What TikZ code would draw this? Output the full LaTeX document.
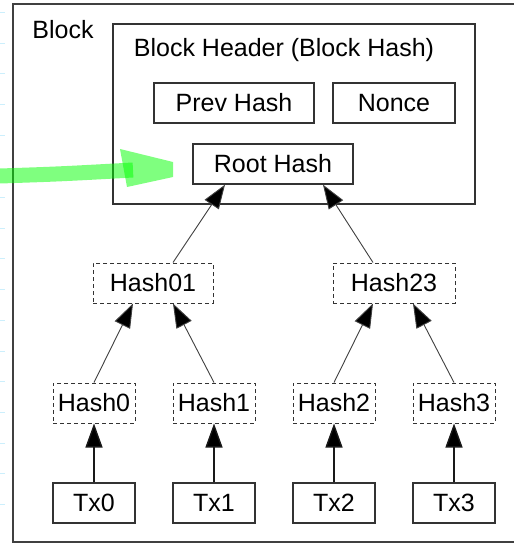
\documentclass[tikz,border=0pt]{standalone}
\usepackage{fontspec}
\setmainfont{Liberation Sans}
\usetikzlibrary{arrows.meta}
\definecolor{marker}{rgb}{0,1,0}
\tikzset{
  solidbox/.style={draw=black!80,line width=1.3pt,rectangle,inner sep=0pt,minimum height=40pt},
  hashbox/.style={solidbox,dashed,dash pattern=on 4pt off 3pt,line width=1pt},
  up/.style={-{Triangle[length=24pt,width=17pt,fill=black]},line width=0.9pt,draw=black!75},
  upthick/.style={up,line width=1.4pt,draw=black!90}
}
\begin{document}
\begin{tikzpicture}[x=1pt,y=-1pt,font=\fontsize{25}{29}\selectfont]
      \useasboundingbox (0,0) rectangle (513,545);
      \fill[white] (0,0) rectangle (513,545);
      % screenshot ticks on the left
      \foreach \y in {12,43,73,104,135,197,228,258,289,320,351,381,412,443,473,504}
        \draw[cyan!20,line width=0.8pt] (0,\y) -- (5,\y);

      % block and header
      \draw[black!75,line width=1.5pt] (520,4) -- (13,4) -- (13,542) -- (520,542);
      \node (block) at (63,30) {Block};
      \node[solidbox,minimum width=362pt,minimum height=180pt] (header) at (294,114) {};
      \node (title) at (284,50) {Block Header (Block Hash)};

      \def \Solid {
        prev/234/103/160/Prev Hash,
        nonce/394/103/122/Nonce,
        root/273/164/160/Root Hash,
        tx0/94/503/82/Tx0,
        tx1/214/503/82/Tx1,
        tx2/334/503/82/Tx2,
        tx3/454/503/82/Tx3}
      \def \Hashes {
        h01/153/283/120/Hash01,
        h23/394/283/122/Hash23,
        h0/94/403/82/Hash0,
        h1/214/403/82/Hash1,
        h2/334/403/82/Hash2,
        h3/454/403/82/Hash3}

      \foreach \id / \x / \y / \w / \t in \Solid {
        \node[solidbox,minimum width=\w pt] (\id) at (\x, \y) {\t};
      }
      \foreach \id / \x / \y / \w / \t in \Hashes {
        \node[hashbox,minimum width=\w pt] (\id) at (\x, \y) {\t};
      }

      % merkle arrows
      \foreach \i in {0,1,2,3} {
        \draw[upthick] (tx\i) -- (h\i);
      }
      \draw[up] (h0.north) -- ([xshift=-20pt]h01.south);
      \draw[up] (h1.north) -- ([xshift=20pt]h01.south);
      \draw[up] (h2.north) -- ([xshift=-21pt]h23.south);
      \draw[up] (h3.north) -- ([xshift=19pt]h23.south);
      \draw[up] ([xshift=20pt]h01.north) -- ([xshift=-48pt]root.south);
      \draw[up] ([xshift=-21pt]h23.north) -- ([xshift=50pt]root.south);

      % green marker
      \coordinate (mstart) at (0,176);
      \coordinate (mend) at (133,170);
      \draw[marker,opacity=0.5,line width=15pt] (mstart) .. controls (60,174) .. (mend);
      \fill[marker,opacity=0.5] (120,149) -- (173,162) -- (173,177) -- (127,187) -- cycle;
\end{tikzpicture}
\end{document}
